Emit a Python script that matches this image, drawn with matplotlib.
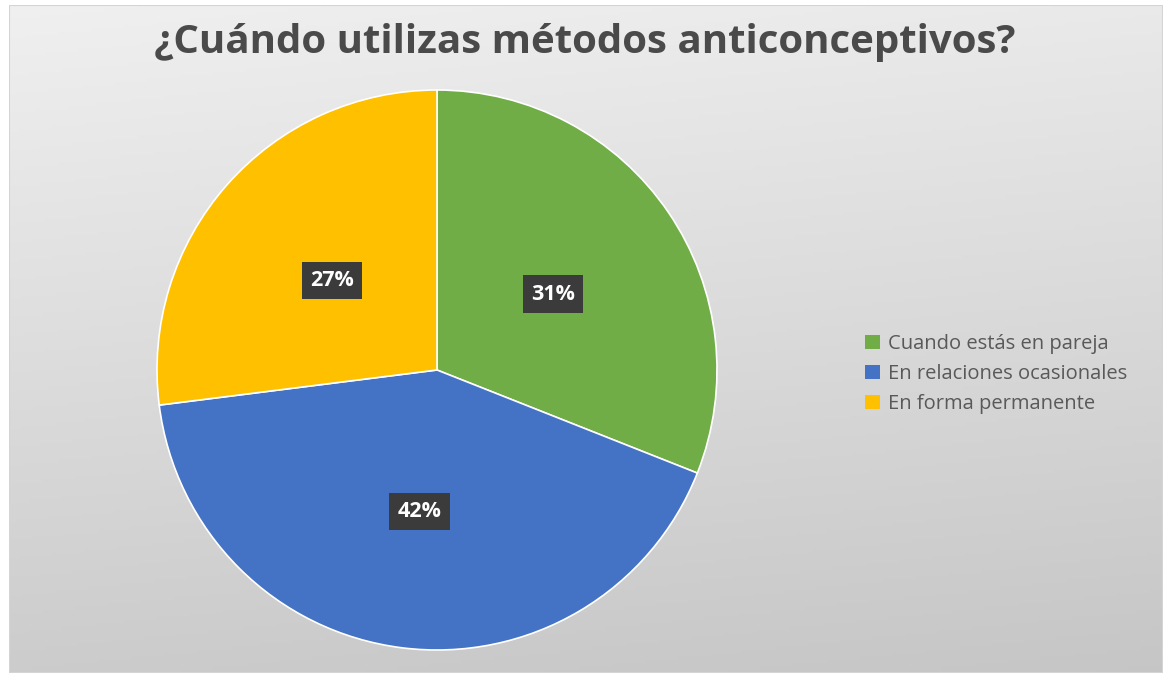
import numpy as np
import matplotlib
matplotlib.use("Agg")
import matplotlib.pyplot as plt
from matplotlib.patches import Patch, Rectangle

categories = ["Cuando estás en pareja", "En relaciones ocasionales", "En forma permanente"]
values = [31, 42, 27]
colors = ["#70AD47", "#4472C4", "#FFC000"]
title = "¿Cuándo utilizas métodos anticonceptivos?"

W, H = 1172, 673
fig = plt.figure(figsize=(W / 100, H / 100), dpi=100)
fig.patch.set_facecolor("white")

# background gradient panel
x0, y0, x1, y1 = 9, 5, 1163, 673
bg = fig.add_axes([x0 / W, 1 - y1 / H, (x1 - x0) / W, (y1 - y0) / H])
bg.set_axis_off()
yy, xx = np.mgrid[0:200, 0:350]
yn = yy / 199.0
xn = xx / 349.0
val = 0.94 - 0.165 * (0.85 * yn + 0.15 * xn)
bg.imshow(np.dstack([val, val, val]), aspect="auto", extent=[0, 1, 0, 1], origin="upper")
bg.add_patch(Rectangle((0, 0), 1, 1, transform=bg.transAxes, fill=False,
                       edgecolor="#d4d4d4", linewidth=1.5))
bg.set_xlim(0, 1)
bg.set_ylim(0, 1)

# pie
cxp, cyp, r = 437, 370, 280
ax = fig.add_axes([(cxp - r) / W, 1 - (cyp + r) / H, 2 * r / W, 2 * r / H])
ax.set_axis_off()
wedges, texts, autotexts = ax.pie(
    values, colors=colors, startangle=90, counterclock=False,
    autopct="%1.0f%%", pctdistance=0.5, radius=1,
    wedgeprops=dict(edgecolor="white", linewidth=1.2),
    textprops=dict(color="white", fontsize=15.5, fontweight="bold", family="Open Sans"))
for t in autotexts:
    t.set_bbox(dict(boxstyle="square,pad=0.38", facecolor="#3b3b3b", edgecolor="none"))
    x, y = t.get_position()
    t.set_position((x, y - 0.01))
ax.set_xlim(-1, 1)
ax.set_ylim(-1, 1)
ax.set_aspect("equal")

fig.text(585 / W, 1 - 42 / H, title, ha="center", va="center",
         fontsize=29, fontweight="bold", color="#4a4a4a", family="Open Sans")

handles = [Patch(facecolor=c, edgecolor="none") for c in colors]
leg = fig.legend(handles, categories, loc="upper left",
                 bbox_to_anchor=(865 / W, 1 - 334 / H), frameon=False,
                 prop=dict(family="Open Sans", size=14.5),
                 handlelength=0.75, handleheight=0.75, handletextpad=0.4,
                 labelspacing=0.5, borderaxespad=0, borderpad=0)
for t in leg.get_texts():
    t.set_color("#595959")

fig.savefig("out.png", dpi=100)
